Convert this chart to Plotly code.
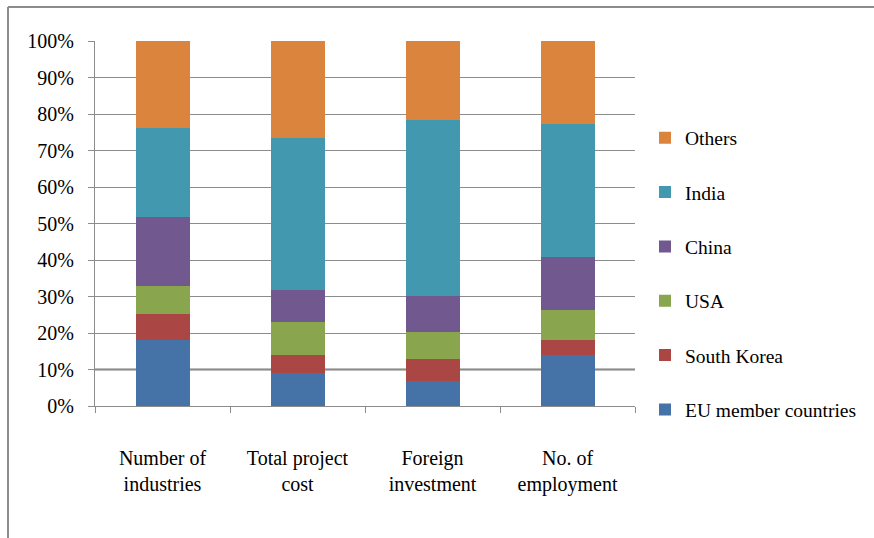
import plotly.graph_objects as go

categories = ["Number of<br>industries", "Total project<br>cost", "Foreign<br>investment", "No. of<br>employment"]
series_names = ["EU member countries", "South Korea", "USA", "China", "India", "Others"]
eu = [18.1, 9.0, 6.9, 13.9]
south_korea = [7.1, 4.9, 5.9, 4.2]
usa = [7.7, 9.2, 7.4, 8.1]
china = [19.0, 8.8, 9.9, 14.7]
india = [24.4, 41.6, 48.2, 36.4]
others = [23.7, 26.5, 21.7, 22.7]
series_values = [eu, south_korea, usa, china, india, others]
colors = ["#4572A7", "#AA4643", "#89A54E", "#71588F", "#4198AF", "#DB843D"]
y_ticks = [0, 10, 20, 30, 40, 50, 60, 70, 80, 90, 100]
y_tick_labels = [f"{v}%" for v in y_ticks]

FONT = "Liberation Serif, Times New Roman, DejaVu Serif, serif"

fig = go.Figure()
n = len(series_names)
for i, (name, vals, col) in enumerate(zip(series_names, series_values, colors)):
    fig.add_trace(go.Bar(
        x=categories, y=vals, name=name, legendgroup=name,
        legendrank=(n - i) * 10,
        marker=dict(color=col, line=dict(width=0)),
    ))

fig.update_layout(
    barmode="stack",
    bargap=0.6,
    width=874, height=538,
    margin=dict(l=95, r=239, t=41, b=132),
    paper_bgcolor="white", plot_bgcolor="white",
    font=dict(family=FONT, size=20, color="black"),
    showlegend=True,
    legend=dict(
        x=1 + 10 / 540, xanchor="left", y=1 - (274 - 41) / 365, yanchor="middle",
        traceorder="grouped", tracegroupgap=26,
        font=dict(family=FONT, size=19.5, color="black"),
        itemwidth=30,
    ),
    xaxis=dict(
        showline=True, linecolor="#8c8c8c", linewidth=1,
        ticks="outside", tickson="boundaries", ticklen=6, tickcolor="#8c8c8c",
        showgrid=False, tickfont=dict(family=FONT, size=20, color="black"),
        ticklabelstandoff=34,
    ),
    yaxis=dict(
        range=[0, 100], tickmode="array", tickvals=y_ticks, ticktext=y_tick_labels,
        showline=True, linecolor="#8c8c8c", linewidth=1,
        ticks="outside", ticklen=6, tickcolor="#8c8c8c",
        showgrid=True, gridcolor="#8c8c8c", gridwidth=1,
        tickfont=dict(family=FONT, size=20, color="black"), ticklabelstandoff=10,
        zeroline=False,
    ),
    shapes=[
        dict(type="line", xref="paper", yref="y", x0=0, x1=1, y0=10, y1=10,
             line=dict(color="#7a7a7a", width=2), layer="below"),
        dict(type="line", xref="paper", yref="paper", x0=-87/540, x1=1 + 239/540,
             y0=1 + 34/365, y1=1 + 34/365, line=dict(color="#8c8c8c", width=2)),
        dict(type="line", xref="paper", yref="paper", x0=-87/540, x1=-87/540,
             y0=1 + 34/365, y1=-132/365, line=dict(color="#8c8c8c", width=2)),
    ],
)

fig.write_html("out.html", config={"displayModeBar": False},
               post_script="document.body.style.margin='0';")
